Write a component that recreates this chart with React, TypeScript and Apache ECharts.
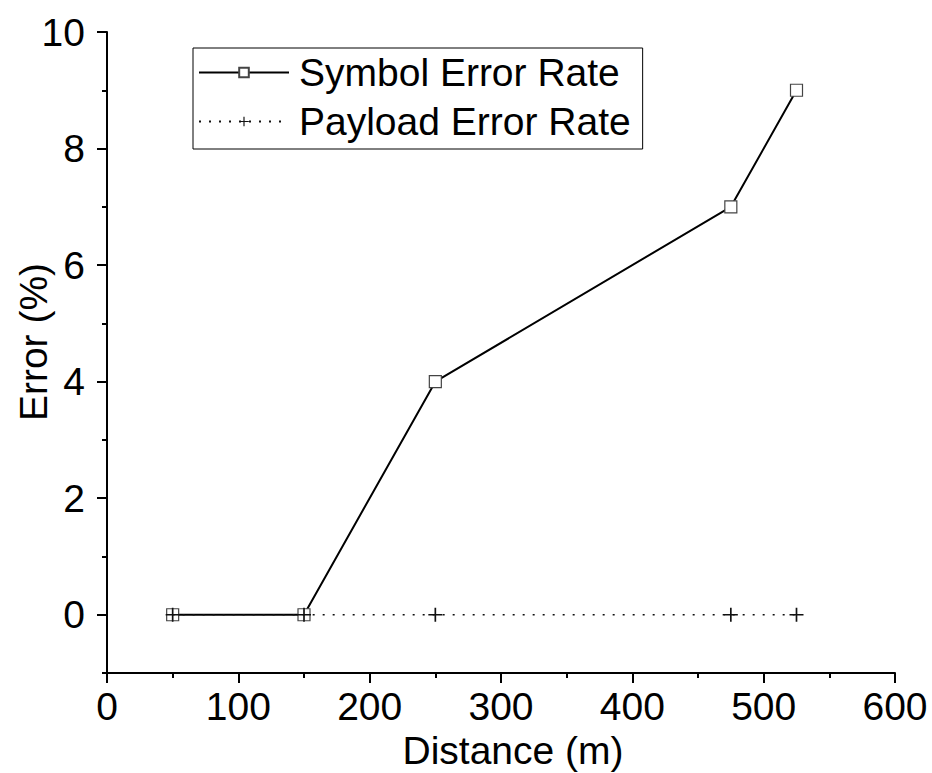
import React, { useEffect, useRef } from "react";
import * as echarts from "echarts";

// Measurement distances (m)
const distances = [50, 150, 250, 475, 525];
// Error percentages per distance
const symbolErrorRate = [0, 0, 4, 7, 9];
const payloadErrorRate = [0, 0, 0, 0, 0];

// Axis tick values
const yMajorTicks = [0, 2, 4, 6, 8, 10];
const yMinorTicks = [-1, 1, 3, 5, 7, 9];

const FONT = 'Arial, "Liberation Sans", sans-serif';
const FS = 39;

// "+" marker outline
const PLUS = "path://M4.4,0H5.6V4.4H10V5.6H5.6V10H4.4V5.6H0V4.4H4.4Z";

export default function App() {
  const ref = useRef<HTMLDivElement>(null);

  useEffect(() => {
    if (!ref.current) return;
    const chart = echarts.init(ref.current, undefined, { renderer: "svg" });

    const axisLine = { show: true, onZero: false, lineStyle: { color: "#000", width: 2 } };

    chart.setOption({
      animation: false,
      backgroundColor: "#fff",
      textStyle: { fontFamily: FONT },
      grid: { left: 107, right: 37, top: 32, bottom: 100, containLabel: false },
      legend: {
        orient: "vertical",
        left: 193,
        top: 48,
        padding: [5, 12, 8, 5],
        itemGap: 10,
        itemWidth: 90,
        itemHeight: 12,
        borderColor: "#000",
        borderWidth: 1,
        backgroundColor: "#fff",
        textStyle: { fontSize: FS, lineHeight: 39, color: "#000", fontFamily: FONT, padding: [0, 0, 0, 5] },
        data: ["Symbol Error Rate", "Payload Error Rate"],
      },
      xAxis: {
        type: "value",
        min: 0,
        max: 600,
        interval: 100,
        axisLine,
        axisTick: { show: true, inside: false, length: 10, lineStyle: { color: "#000", width: 2 } },
        minorTick: { show: true, splitNumber: 2, length: 5, lineStyle: { color: "#000", width: 2 } },
        splitLine: { show: false },
        minorSplitLine: { show: false },
        axisLabel: { fontSize: FS, color: "#000", margin: 14, fontFamily: FONT },
      },
      yAxis: [
        {
          type: "value",
          min: -1,
          max: 10,
          position: "left",
          axisLine,
          axisTick: {
            show: true,
            inside: false,
            length: 10,
            customValues: yMajorTicks,
            lineStyle: { color: "#000", width: 2 },
          },
          splitLine: { show: false },
          axisLabel: {
            fontSize: FS,
            color: "#000",
            margin: 22,
            fontFamily: FONT,
            customValues: yMajorTicks,
          },
        },
        {
          type: "value",
          min: -1,
          max: 10,
          position: "left",
          axisLine: { show: false },
          axisTick: {
            show: true,
            inside: false,
            length: 5,
            customValues: yMinorTicks,
            lineStyle: { color: "#000", width: 2 },
          },
          splitLine: { show: false },
          axisLabel: { show: false },
        },
      ],
      graphic: [
        {
          type: "text",
          x: 33,
          y: 342,
          rotation: Math.PI / 2,
          style: {
            text: "Error (%)",
            font: `${FS}px ${FONT}`,
            fill: "#000",
            align: "center",
            verticalAlign: "middle",
          },
        },
        {
          type: "text",
          x: 513,
          y: 750,
          style: {
            text: "Distance (m)",
            font: `${FS}px ${FONT}`,
            fill: "#000",
            align: "center",
            verticalAlign: "middle",
          },
        },
      ],
      series: [
        {
          name: "Symbol Error Rate",
          type: "line",
          yAxisIndex: 0,
          data: distances.map((d, i) => [d, symbolErrorRate[i]]),
          symbol: "rect",
          symbolSize: 12,
          showAllSymbol: true,
          lineStyle: { color: "#000", width: 2 },
          itemStyle: { color: "#fff", borderColor: "#444", borderWidth: 1.2 },
          z: 2,
        },
        {
          name: "Payload Error Rate",
          type: "line",
          yAxisIndex: 0,
          data: distances.map((d, i) => [d, payloadErrorRate[i]]),
          symbol: PLUS,
          symbolSize: 14,
          showAllSymbol: true,
          lineStyle: { color: "#111", width: 1.6, type: [2, 8] },
          itemStyle: { color: "#111", borderWidth: 0 },
          z: 3,
        },
      ],
    });

    return () => chart.dispose();
  }, []);

  return (
    <div
      ref={ref}
      style={{ position: "fixed", left: 0, top: 0, width: 932, height: 773, background: "#fff" }}
    />
  );
}
